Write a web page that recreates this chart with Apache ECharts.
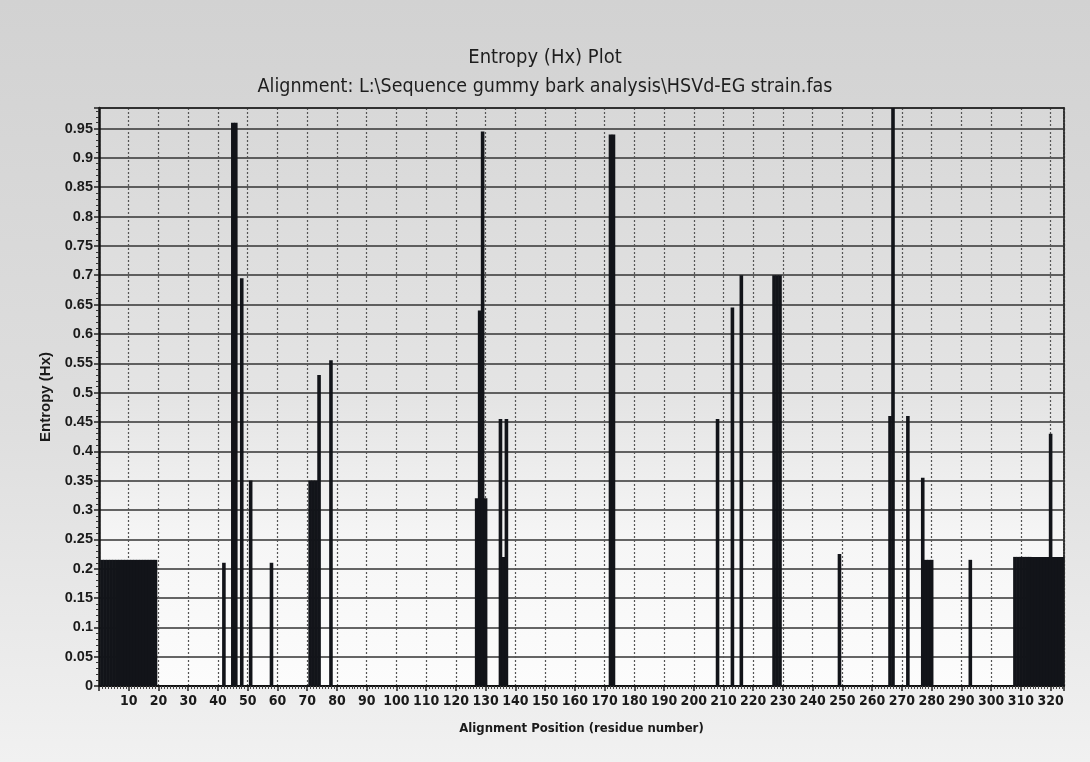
<!DOCTYPE html>
<html><head><meta charset="utf-8">
<script src="https://cdn.jsdelivr.net/npm/echarts@6/dist/echarts.min.js"></script>
<style>html,body{margin:0;padding:0;background:#dcdcdc}#c{width:1090px;height:762px}</style>
</head><body><div id="c"></div>
<script>
// Alignment positions (residue number) with non-zero entropy, and their entropy values (Hx)
const positions = [1,2,3,4,5,6,7,8,9,10,11,12,13,14,15,16,17,18,19,
  42,45,46,48,51,58,71,72,73,74,78,
  127,128,129,130,135,136,137,172,173,
  208,213,216,227,228,229,249,266,267,272,277,278,279,280,293,
  308,309,310,311,312,313,314,315,316,317,318,319,320,321,322,323,324];
const entropy = [0.215,0.215,0.215,0.215,0.215,0.215,0.215,0.215,0.215,0.215,0.215,0.215,0.215,0.215,0.215,0.215,0.215,0.215,0.215,
  0.21,0.96,0.96,0.695,0.35,0.21,0.35,0.35,0.35,0.53,0.555,
  0.32,0.64,0.945,0.32,0.455,0.22,0.455,0.94,0.94,
  0.455,0.645,0.70,0.70,0.70,0.70,0.225,0.46,0.985,0.46,0.355,0.215,0.215,0.215,0.215,
  0.22,0.22,0.22,0.22,0.22,0.22,0.22,0.22,0.22,0.22,0.22,0.22,0.43,0.22,0.22,0.22,0.22];
const xAxisRange = [0, 324.5];
const yAxisRange = [0, 0.985];
const xTickStep = 10;
const yTickStep = 0.05;
const chartTitle = 'Entropy (Hx) Plot';
const chartSubtitle = 'Alignment: L:\\Sequence gummy bark analysis\\HSVd-EG strain.fas';
const xAxisName = 'Alignment Position (residue number)';
const yAxisName = 'Entropy (Hx)';

const narrow = "'Liberation Sans Narrow', 'DejaVu Sans Condensed', 'Liberation Sans', Arial, sans-serif";
const sans = "'Liberation Sans', Arial, sans-serif";
const chart = echarts.init(document.getElementById('c'));
const G = echarts.graphic.LinearGradient;

chart.setOption({
  backgroundColor: new G(0, 0, 0, 1, [
    {offset: 0, color: '#d2d2d2'}, {offset: 0.55, color: '#dedede'}, {offset: 1, color: '#f1f1f1'}]),
  animation: false,
  title: {
    text: chartTitle, subtext: chartSubtitle, left: 'center', top: 43, itemGap: 9,
    textStyle: {fontFamily: narrow, fontSize: 20, fontWeight: 'normal', color: '#1e1e1e'},
    subtextStyle: {fontFamily: narrow, fontSize: 19.5, color: '#1e1e1e'}
  },
  grid: {
    left: 99, right: 26, top: 108, bottom: 76, show: true, borderWidth: 0,
    backgroundColor: new G(0, 0, 0, 1, [
      {offset: 0, color: '#d8d8d8'}, {offset: 0.5, color: '#e4e4e4'}, {offset: 0.75, color: '#f6f6f6'}, {offset: 1, color: '#fcfcfc'}])
  },
  xAxis: [{
    type: 'value', min: xAxisRange[0], max: xAxisRange[1], interval: xTickStep,
    name: xAxisName, nameLocation: 'middle', nameGap: 36,
    nameTextStyle: {fontFamily: narrow, fontSize: 13, fontWeight: 'bold', color: '#1a1a1a'},
    axisLine: {show: true, lineStyle: {color: '#111', width: 2}},
    axisTick: {show: true, length: 5, lineStyle: {color: '#222', width: 1.5}},
    minorTick: {show: true, splitNumber: 10, length: 3, lineStyle: {color: '#444', width: 1}},
    axisLabel: {
      fontFamily: narrow, fontSize: 14, fontWeight: 'bold', color: '#1a1a1a', margin: 8,
      formatter: v => (v > 0 && Math.abs(v % xTickStep) < 1e-6) ? String(v) : ''
    },
    splitLine: {show: true, lineStyle: {color: '#555', width: 1.2, type: [2, 2]}}
  }, {
    type: 'value', position: 'top', min: xAxisRange[0], max: xAxisRange[1],
    axisLine: {show: true, onZero: false, lineStyle: {color: '#222', width: 1.5}},
    axisTick: {show: false}, axisLabel: {show: false}, splitLine: {show: false}
  }],
  yAxis: [{
    type: 'value', min: yAxisRange[0], max: yAxisRange[1], interval: yTickStep,
    name: yAxisName, nameLocation: 'middle', nameGap: 46, nameRotate: 90,
    nameTextStyle: {fontFamily: sans, fontSize: 15, fontWeight: 'bold', color: '#1a1a1a'},
    axisLine: {show: true, lineStyle: {color: '#111', width: 2.5}},
    axisTick: {show: true, length: 5, lineStyle: {color: '#222', width: 1.5}},
    minorTick: {show: true, splitNumber: 5, length: 3, lineStyle: {color: '#333', width: 1}},
    axisLabel: {
      fontFamily: sans, fontSize: 14.5, fontWeight: 'bold', color: '#1a1a1a', margin: 6,
      formatter: v => {
        const k = v / yTickStep;
        if (Math.abs(k - Math.round(k)) > 1e-6) return '';
        return String(parseFloat(v.toFixed(2)));
      }
    },
    splitLine: {show: true, lineStyle: {color: '#333', width: 1.7}}
  }, {
    type: 'value', position: 'right', min: yAxisRange[0], max: yAxisRange[1],
    axisLine: {show: true, onZero: false, lineStyle: {color: '#333', width: 2, type: [2, 1]}},
    axisTick: {show: false}, axisLabel: {show: false}, splitLine: {show: false}
  }],
  series: [{
    type: 'bar', xAxisIndex: 0, yAxisIndex: 0,
    data: positions.map((p, i) => [p, entropy[i]]),
    barWidth: 3.6, barGap: '0%',
    itemStyle: {color: '#121419', borderWidth: 0},
    clip: true
  }]
});
</script></body></html>
